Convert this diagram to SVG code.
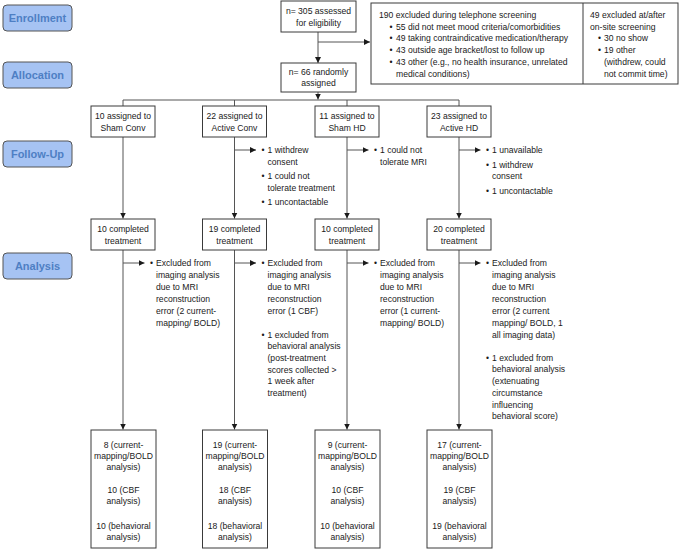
<svg xmlns="http://www.w3.org/2000/svg" width="685" height="550" viewBox="0 0 685 550">
<defs>
<marker id="arr" markerUnits="userSpaceOnUse" markerWidth="7" markerHeight="7" refX="6" refY="3" orient="auto">
<path d="M0,0 L6,3 L0,6 z" fill="#1a1a1a"/>
</marker>
<style>
.stage rect{fill:#a6c3f3;stroke:#555;stroke-width:1}
.stage text{font-family:"Liberation Sans",Arial,sans-serif;font-weight:bold;font-size:11px;fill:#4e7fc4;text-anchor:middle}
.box rect{fill:#fff;stroke:#3a3a3a;stroke-width:1}
.t{font-family:"Liberation Sans",Arial,sans-serif;font-size:8.6px;fill:#1a1a1a}
.c{text-anchor:middle}
.ln{stroke:#555;stroke-width:1;fill:none}
.ar{stroke:#555;stroke-width:1;fill:none;marker-end:url(#arr)}
</style>
</defs>
<rect width="685" height="550" fill="#fff"/>

<g id="stage-enrollment" class="stage"><rect x="3" y="5" width="69" height="26" rx="4"/><text x="37.5" y="22">Enrollment</text></g>
<g id="stage-allocation" class="stage"><rect x="3" y="62" width="69" height="26" rx="4"/><text x="37.5" y="79">Allocation</text></g>
<g id="stage-followup" class="stage"><rect x="3" y="141" width="69" height="26" rx="4"/><text x="37.5" y="158">Follow-Up</text></g>
<g id="stage-analysis" class="stage"><rect x="3" y="253" width="69" height="26" rx="4"/><text x="37.5" y="270">Analysis</text></g>

<g id="connectors">
<line class="ar" x1="318" y1="32" x2="318" y2="63"/>
<line class="ar" x1="318" y1="42" x2="370" y2="42"/>
<line class="ar" x1="318" y1="92" x2="318" y2="99.5"/>
<line class="ln" x1="123" y1="100" x2="459" y2="100"/>
<line class="ln" x1="123" y1="100" x2="123" y2="106"/>
<line class="ln" x1="234.5" y1="100" x2="234.5" y2="106"/>
<line class="ln" x1="347" y1="100" x2="347" y2="106"/>
<line class="ln" x1="459" y1="100" x2="459" y2="106"/>
<line class="ar" x1="123" y1="137" x2="123" y2="218.5"/>
<line class="ar" x1="234.5" y1="137" x2="234.5" y2="218.5"/>
<line class="ar" x1="347" y1="137" x2="347" y2="218.5"/>
<line class="ar" x1="459" y1="137" x2="459" y2="218.5"/>
<line class="ar" x1="234.5" y1="150" x2="256" y2="150"/>
<line class="ar" x1="347" y1="150" x2="368.5" y2="150"/>
<line class="ar" x1="459" y1="150" x2="480.5" y2="150"/>
<line class="ar" x1="123" y1="250" x2="123" y2="429.5"/>
<line class="ar" x1="234.5" y1="250" x2="234.5" y2="429.5"/>
<line class="ar" x1="347" y1="250" x2="347" y2="429.5"/>
<line class="ar" x1="459" y1="250" x2="459" y2="429.5"/>
<line class="ar" x1="123" y1="263" x2="144.5" y2="263"/>
<line class="ar" x1="234.5" y1="263" x2="256" y2="263"/>
<line class="ar" x1="347" y1="263" x2="368.5" y2="263"/>
<line class="ar" x1="459" y1="263" x2="480.5" y2="263"/>
</g>

<g id="assessed" class="box"><rect x="281" y="1" width="75" height="31"/>
<text class="t c" x="318.5" y="13.5">n= 305 assessed</text><text class="t c" x="318.5" y="25.5">for eligibility</text></g>

<g id="excluded" class="box"><rect x="371" y="3" width="307" height="81"/>
<line x1="583" y1="3" x2="583" y2="84" stroke="#3a3a3a" stroke-width="1"/>
<text class="t" x="379" y="18">190 excluded during telephone screening</text>
<text class="t" x="389.5" y="29.7">•</text><text class="t" x="396" y="29.7">55 did not meet mood criteria/comorbidities</text>
<text class="t" x="389.5" y="41.4">•</text><text class="t" x="396" y="41.4">49 taking contraindicative medication/therapy</text>
<text class="t" x="389.5" y="53.1">•</text><text class="t" x="396" y="53.1">43 outside age bracket/lost to follow up</text>
<text class="t" x="389.5" y="64.8">•</text><text class="t" x="396" y="64.8">43 other (e.g., no health insurance, unrelated</text>
<text class="t" x="396" y="76.5">medical conditions)</text>
<text class="t" x="590" y="18">49 excluded at/after</text>
<text class="t" x="590" y="29.7">on-site screening</text>
<text class="t" x="598" y="41.4">•</text><text class="t" x="604" y="41.4">30 no show</text>
<text class="t" x="598" y="53.1">•</text><text class="t" x="604" y="53.1">19 other</text>
<text class="t" x="604" y="64.8">(withdrew, could</text>
<text class="t" x="604" y="76.5">not commit time)</text>
</g>

<g id="randomized" class="box"><rect x="281" y="63" width="75" height="29"/>
<text class="t c" x="318.5" y="74.5">n= 66 randomly</text><text class="t c" x="318.5" y="86">assigned</text></g>

<g id="assigned-sham-conv" class="box"><rect x="91" y="106" width="64" height="31"/>
<text class="t c" x="123" y="118.5">10 assigned to</text><text class="t c" x="123" y="130.5">Sham Conv</text></g>
<g id="assigned-active-conv" class="box"><rect x="202.5" y="106" width="64" height="31"/>
<text class="t c" x="234.5" y="118.5">22 assigned to</text><text class="t c" x="234.5" y="130.5">Active Conv</text></g>
<g id="assigned-sham-hd" class="box"><rect x="315" y="106" width="64" height="31"/>
<text class="t c" x="347" y="118.5">11 assigned to</text><text class="t c" x="347" y="130.5">Sham HD</text></g>
<g id="assigned-active-hd" class="box"><rect x="427" y="106" width="64" height="31"/>
<text class="t c" x="459" y="118.5">23 assigned to</text><text class="t c" x="459" y="130.5">Active HD</text></g>

<g id="followup-active-conv">
<text class="t" x="261.5" y="153">•</text><text class="t" x="267.5" y="153">1 withdrew</text>
<text class="t" x="267.5" y="164.7">consent</text>
<text class="t" x="261.5" y="179.2">•</text><text class="t" x="267.5" y="179.2">1 could not</text>
<text class="t" x="267.5" y="190.9">tolerate treatment</text>
<text class="t" x="261.5" y="205.4">•</text><text class="t" x="267.5" y="205.4">1 uncontactable</text>
</g>
<g id="followup-sham-hd">
<text class="t" x="374" y="153">•</text><text class="t" x="380" y="153">1 could not</text>
<text class="t" x="380" y="164.7">tolerate MRI</text>
</g>
<g id="followup-active-hd">
<text class="t" x="486" y="153">•</text><text class="t" x="492" y="153">1 unavailable</text>
<text class="t" x="486" y="167.5">•</text><text class="t" x="492" y="167.5">1 withdrew</text>
<text class="t" x="492" y="179.2">consent</text>
<text class="t" x="486" y="193.7">•</text><text class="t" x="492" y="193.7">1 uncontactable</text>
</g>

<g id="completed-sham-conv" class="box"><rect x="91" y="219" width="64" height="31"/>
<text class="t c" x="123" y="231.5">10 completed</text><text class="t c" x="123" y="243.5">treatment</text></g>
<g id="completed-active-conv" class="box"><rect x="202.5" y="219" width="64" height="31"/>
<text class="t c" x="234.5" y="231.5">19 completed</text><text class="t c" x="234.5" y="243.5">treatment</text></g>
<g id="completed-sham-hd" class="box"><rect x="315" y="219" width="64" height="31"/>
<text class="t c" x="347" y="231.5">10 completed</text><text class="t c" x="347" y="243.5">treatment</text></g>
<g id="completed-active-hd" class="box"><rect x="427" y="219" width="64" height="31"/>
<text class="t c" x="459" y="231.5">20 completed</text><text class="t c" x="459" y="243.5">treatment</text></g>

<g id="analysis-sham-conv">
<text class="t" x="150" y="266">•</text><text class="t" x="156" y="266">Excluded from</text>
<text class="t" x="156" y="278">imaging analysis</text>
<text class="t" x="156" y="290">due to MRI</text>
<text class="t" x="156" y="302">reconstruction</text>
<text class="t" x="156" y="314">error (2 current-</text>
<text class="t" x="156" y="326">mapping/ BOLD)</text>
</g>
<g id="analysis-active-conv">
<text class="t" x="261.5" y="266">•</text><text class="t" x="267.5" y="266">Excluded from</text>
<text class="t" x="267.5" y="278">imaging analysis</text>
<text class="t" x="267.5" y="290">due to MRI</text>
<text class="t" x="267.5" y="302">reconstruction</text>
<text class="t" x="267.5" y="314">error (1 CBF)</text>
<text class="t" x="261.5" y="337.5">•</text><text class="t" x="267.5" y="337.5">1 excluded from</text>
<text class="t" x="267.5" y="349.2">behavioral analysis</text>
<text class="t" x="267.5" y="360.9">(post-treatment</text>
<text class="t" x="267.5" y="372.6">scores collected &gt;</text>
<text class="t" x="267.5" y="384.3">1 week after</text>
<text class="t" x="267.5" y="396">treatment)</text>
</g>
<g id="analysis-sham-hd">
<text class="t" x="374" y="266">•</text><text class="t" x="380" y="266">Excluded from</text>
<text class="t" x="380" y="278">imaging analysis</text>
<text class="t" x="380" y="290">due to MRI</text>
<text class="t" x="380" y="302">reconstruction</text>
<text class="t" x="380" y="314">error (1 current-</text>
<text class="t" x="380" y="326">mapping/ BOLD)</text>
</g>
<g id="analysis-active-hd">
<text class="t" x="486" y="266">•</text><text class="t" x="492" y="266">Excluded from</text>
<text class="t" x="492" y="278">imaging analysis</text>
<text class="t" x="492" y="290">due to MRI</text>
<text class="t" x="492" y="302">reconstruction</text>
<text class="t" x="492" y="314">error (2 current</text>
<text class="t" x="492" y="326">mapping/ BOLD, 1</text>
<text class="t" x="492" y="338">all imaging data)</text>
<text class="t" x="486" y="360.7">•</text><text class="t" x="492" y="360.7">1 excluded from</text>
<text class="t" x="492" y="372.4">behavioral analysis</text>
<text class="t" x="492" y="384.1">(extenuating</text>
<text class="t" x="492" y="395.8">circumstance</text>
<text class="t" x="492" y="407.5">influencing</text>
<text class="t" x="492" y="419.2">behavioral score)</text>
</g>

<g id="final-sham-conv" class="box"><rect x="91" y="430" width="65" height="118"/>
<text class="t c" x="123.5" y="448">8 (current-</text><text class="t c" x="123.5" y="459">mapping/BOLD</text><text class="t c" x="123.5" y="470">analysis)</text>
<text class="t c" x="123.5" y="493">10 (CBF</text><text class="t c" x="123.5" y="504">analysis)</text>
<text class="t c" x="123.5" y="528.5">10 (behavioral</text><text class="t c" x="123.5" y="539.5">analysis)</text></g>
<g id="final-active-conv" class="box"><rect x="202.5" y="430" width="65" height="118"/>
<text class="t c" x="235" y="448">19 (current-</text><text class="t c" x="235" y="459">mapping/BOLD</text><text class="t c" x="235" y="470">analysis)</text>
<text class="t c" x="235" y="493">18 (CBF</text><text class="t c" x="235" y="504">analysis)</text>
<text class="t c" x="235" y="528.5">18 (behavioral</text><text class="t c" x="235" y="539.5">analysis)</text></g>
<g id="final-sham-hd" class="box"><rect x="315" y="430" width="65" height="118"/>
<text class="t c" x="347.5" y="448">9 (current-</text><text class="t c" x="347.5" y="459">mapping/BOLD</text><text class="t c" x="347.5" y="470">analysis)</text>
<text class="t c" x="347.5" y="493">10 (CBF</text><text class="t c" x="347.5" y="504">analysis)</text>
<text class="t c" x="347.5" y="528.5">10 (behavioral</text><text class="t c" x="347.5" y="539.5">analysis)</text></g>
<g id="final-active-hd" class="box"><rect x="427" y="430" width="65" height="118"/>
<text class="t c" x="459.5" y="448">17 (current-</text><text class="t c" x="459.5" y="459">mapping/BOLD</text><text class="t c" x="459.5" y="470">analysis)</text>
<text class="t c" x="459.5" y="493">19 (CBF</text><text class="t c" x="459.5" y="504">analysis)</text>
<text class="t c" x="459.5" y="528.5">19 (behavioral</text><text class="t c" x="459.5" y="539.5">analysis)</text></g>
</svg>
